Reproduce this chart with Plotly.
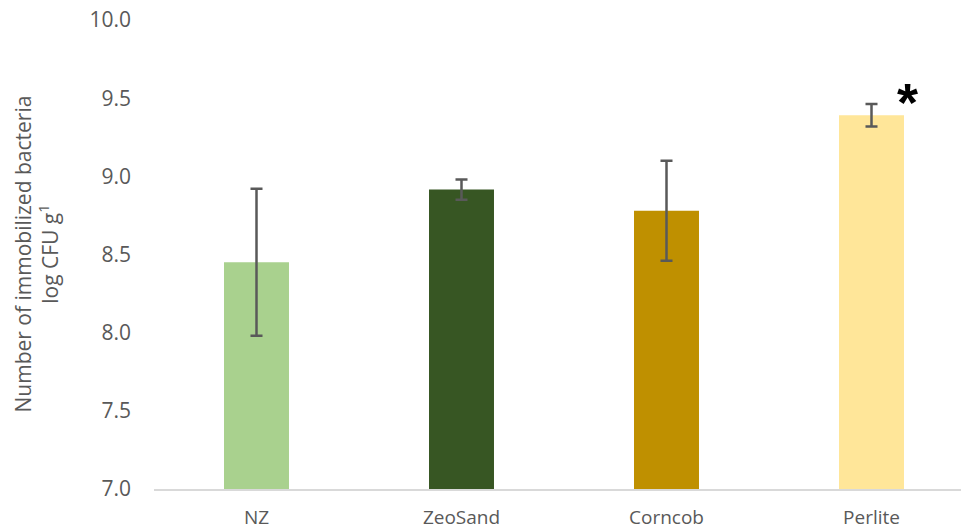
import plotly.graph_objects as go

categories = ["NZ", "ZeoSand", "Corncob", "Perlite"]
values = [8.45, 8.915, 8.78, 9.39]
errors = [0.47, 0.064, 0.32, 0.072]
colors = ["#A9D18E", "#375623", "#BF9000", "#FFE699"]
yticks = [7.0, 7.5, 8.0, 8.5, 9.0, 9.5, 10.0]

fig = go.Figure()
fig.add_trace(go.Bar(
    x=categories, y=values, marker=dict(color=colors, line=dict(width=0)),
    error_y=dict(type="data", array=errors, visible=True, color="#595959", thickness=2.5, width=6),
))

fig.add_annotation(x="Perlite", y=9.52, text="<b>*</b>", showarrow=False, xshift=36, yshift=-7,
                   font=dict(size=54, color="black", family="Arial"))

fig.add_annotation(xref="paper", yref="paper", x=0, y=0.5, xanchor="center", yanchor="middle",
                   xshift=-118, textangle=-90, showarrow=False,
                   text="Number of immobilized bacteria<br>log CFU g<sup>1</sup>",
                   font=dict(family="Open Sans", size=21, color="#595959"))

xfont = dict(family="Open Sans", size=19, color="#595959")
yfont = dict(family="Open Sans", size=21, color="#595959")
fig.update_layout(
    width=961, height=529, margin=dict(l=154, r=0, t=20, b=40),
    plot_bgcolor="white", paper_bgcolor="white", showlegend=False,
    bargap=0.683, font=xfont,
    xaxis=dict(range=[-0.5, 3.4366], showline=True, linecolor="#D9D9D9", linewidth=2,
               ticks="", showgrid=False, tickfont=xfont, ticklabelstandoff=10, automargin=False),
    yaxis=dict(range=[7.0, 10.0], tickvals=yticks, ticktext=[f"{v:.1f}" for v in yticks],
               showgrid=False, zeroline=False, showline=False, ticks="", tickfont=yfont,
               ticklabelstandoff=22, automargin=False),
)
fig.write_html("out.html")
